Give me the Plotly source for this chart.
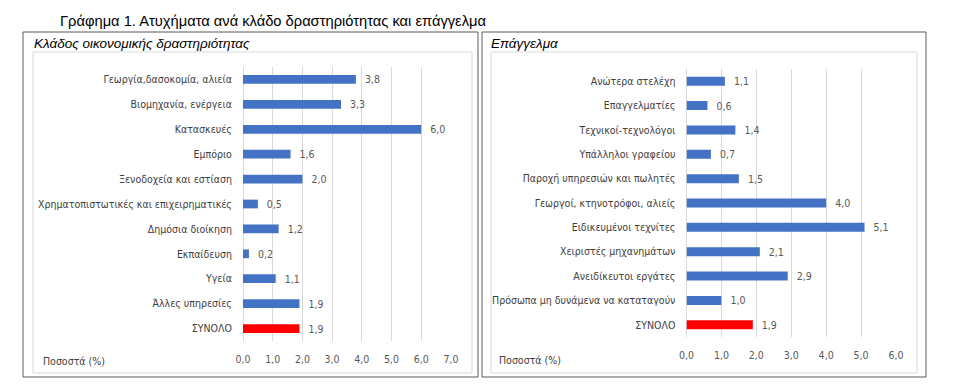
import plotly.graph_objects as go

W, H = 963, 390

# ---- data ----
sector_labels = [
    "Γεωργία,δασοκομία, αλιεία",
    "Βιομηχανία, ενέργεια",
    "Κατασκευές",
    "Εμπόριο",
    "Ξενοδοχεία και εστίαση",
    "Χρηματοπιστωτικές και επιχειρηματικές",
    "Δημόσια διοίκηση",
    "Εκπαίδευση",
    "Υγεία",
    "Άλλες υπηρεσίες",
    "ΣΥΝΟΛΟ",
]
sector_values = [3.8, 3.3, 6.0, 1.6, 2.0, 0.5, 1.2, 0.2, 1.1, 1.9, 1.9]

occupation_labels = [
    "Ανώτερα στελέχη",
    "Επαγγελματίες",
    "Τεχνικοί-τεχνολόγοι",
    "Υπάλληλοι γραφείου",
    "Παροχή υπηρεσιών και πωλητές",
    "Γεωργοί, κτηνοτρόφοι, αλιείς",
    "Ειδικευμένοι τεχνίτες",
    "Χειριστές μηχανημάτων",
    "Ανειδίκευτοι εργάτες",
    "Πρόσωπα μη δυνάμενα να καταταγούν",
    "ΣΥΝΟΛΟ",
]
occupation_values = [1.1, 0.6, 1.4, 0.7, 1.5, 4.0, 5.1, 2.1, 2.9, 1.0, 1.9]

sector_ticks = [0, 1, 2, 3, 4, 5, 6, 7]
occupation_ticks = [0, 1, 2, 3, 4, 5, 6]

BLUE = "#4472C4"
RED = "#FF0000"
FONT = "DejaVu Sans Condensed, Liberation Sans Narrow, sans-serif"
FS = 10.5


def fmt(v):
    return ("%.1f" % v).replace(".", ",")


def px_x(p):
    return p / W


def px_y(p):
    return 1 - p / H


def colors(labels):
    return [RED if l == "ΣΥΝΟΛΟ" else BLUE for l in labels]


fig = go.Figure()

fig.add_trace(go.Bar(
    y=sector_labels, x=sector_values, orientation="h",
    marker=dict(color=colors(sector_labels), line=dict(width=0)),
    width=0.35,
    text=["  " + fmt(v) for v in sector_values], textposition="outside",
    constraintext="none", cliponaxis=False,
    textfont=dict(family=FONT, size=FS, color="#595959"),
    xaxis="x", yaxis="y", hoverinfo="skip",
))
fig.add_trace(go.Bar(
    y=occupation_labels, x=occupation_values, orientation="h",
    marker=dict(color=colors(occupation_labels), line=dict(width=0)),
    width=0.37,
    text=["  " + fmt(v) for v in occupation_values], textposition="outside",
    constraintext="none", cliponaxis=False,
    textfont=dict(family=FONT, size=FS, color="#595959"),
    xaxis="x2", yaxis="y2", hoverinfo="skip",
))

xcommon = dict(
    showgrid=True, gridcolor="#D9D9D9", gridwidth=1,
    zeroline=True, zerolinecolor="#D9D9D9", zerolinewidth=1,
    showline=False, ticks="outside", ticklen=8, tickcolor="rgba(0,0,0,0)",
    tickfont=dict(family=FONT, size=FS, color="#595959"),
    fixedrange=True, automargin=False,
)
ycommon = dict(
    autorange="reversed", showgrid=False, zeroline=False, showline=False,
    ticks="outside", ticklen=8, tickcolor="rgba(0,0,0,0)",
    tickfont=dict(family=FONT, size=FS, color="#404040"),
    fixedrange=True, automargin=False,
)

fig.update_layout(
    template="none",
    width=W, height=H,
    margin=dict(l=0, r=0, t=0, b=0, pad=0),
    paper_bgcolor="white", plot_bgcolor="white",
    showlegend=False,
    font=dict(family=FONT),
    xaxis=dict(domain=[px_x(243), px_x(451)], range=[0, 7.001],
               tickvals=sector_ticks, ticktext=[fmt(t) for t in sector_ticks],
               anchor="y", **xcommon),
    yaxis=dict(domain=[px_y(341), px_y(67)], anchor="x", **ycommon),
    xaxis2=dict(domain=[px_x(686.5), px_x(896)], range=[0, 6.001],
                tickvals=occupation_ticks, ticktext=[fmt(t) for t in occupation_ticks],
                anchor="y2", **xcommon),
    yaxis2=dict(domain=[px_y(337), px_y(69)], anchor="x2", **ycommon),
)

shapes = []
# outer panel borders
for x0, x1 in [(23, 478), (482, 926)]:
    shapes.append(dict(type="rect", xref="paper", yref="paper",
                       x0=px_x(x0), x1=px_x(x1), y0=px_y(377), y1=px_y(32),
                       line=dict(color="#595959", width=1)))
# inner plot-area borders
for x0, x1 in [(33, 472), (491, 917)]:
    shapes.append(dict(type="rect", xref="paper", yref="paper",
                       x0=px_x(x0), x1=px_x(x1), y0=px_y(373), y1=px_y(52),
                       line=dict(color="#D9D9D9", width=1)))
fig.update_layout(shapes=shapes)

ann = [
    dict(text="Γράφημα 1. Ατυχήματα ανά κλάδο δραστηριότητας και επάγγελμα",
         x=px_x(58), y=px_y(21), xanchor="left", yanchor="middle",
         font=dict(family="Liberation Sans, Arial, sans-serif", size=14.7, color="#000000")),
    dict(text="<i>Κλάδος οικονομικής δραστηριότητας</i>",
         x=px_x(32), y=px_y(43), xanchor="left", yanchor="middle",
         font=dict(family="Liberation Sans, Arial, sans-serif", size=13.5, color="#000000")),
    dict(text="<i>Επάγγελμα</i>",
         x=px_x(489), y=px_y(43), xanchor="left", yanchor="middle",
         font=dict(family="Liberation Sans, Arial, sans-serif", size=13.5, color="#000000")),
    dict(text="Ποσοστά (%)", x=px_x(41), y=px_y(361), xanchor="left", yanchor="middle",
         font=dict(family=FONT, size=FS, color="#404040")),
    dict(text="Ποσοστά (%)", x=px_x(497), y=px_y(360), xanchor="left", yanchor="middle",
         font=dict(family=FONT, size=FS, color="#404040")),
]
for a in ann:
    a.update(xref="paper", yref="paper", showarrow=False)
fig.update_layout(annotations=ann)

fig.write_html("out.html", config={"displayModeBar": False},
               post_script="document.body.style.margin='0';")
